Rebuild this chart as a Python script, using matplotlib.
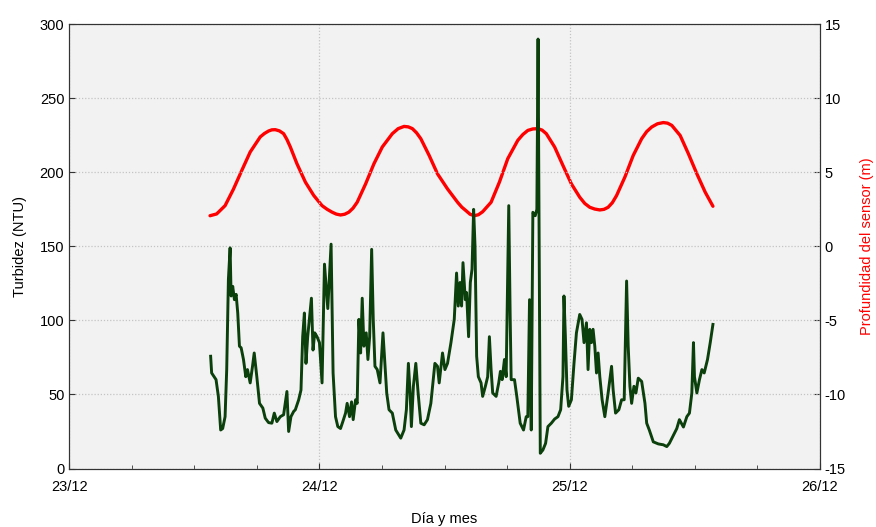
import numpy as np
import matplotlib
matplotlib.use("Agg")
import matplotlib.pyplot as plt
from matplotlib.ticker import MultipleLocator

plt.rcParams['font.family'] = ['Liberation Sans', 'DejaVu Sans']
plt.rcParams['axes.unicode_minus'] = False

# time in days since 23/12 00:00
turb_days = [0.5652, 0.5692, 0.5868, 0.5961, 0.6053, 0.6133, 0.6229, 0.6294, 0.6362, 0.6430,
             0.6470, 0.6534, 0.6602, 0.6670, 0.6735, 0.6803, 0.6871, 0.6964, 0.7056, 0.7124,
             0.7232, 0.7325, 0.7393, 0.7497, 0.7605, 0.7738, 0.7834, 0.7966, 0.8099, 0.8195,
             0.8299, 0.8436, 0.8568, 0.8700, 0.8769, 0.8861, 0.8969, 0.9037, 0.9170, 0.9262,
             0.9330, 0.9398, 0.9462, 0.9530, 0.9599, 0.9679, 0.9743, 0.9811, 0.9904, 1.0000,
             1.0104, 1.0201, 1.0333, 1.0465, 1.0505, 1.0545, 1.0642, 1.0734, 1.0842, 1.0935,
             1.1043, 1.1107, 1.1203, 1.1283, 1.1348, 1.1444, 1.1508, 1.1576, 1.1645, 1.1709,
             1.1777, 1.1869, 1.1937, 1.2006, 1.2086, 1.2150, 1.2218, 1.2310, 1.2419, 1.2539,
             1.2607, 1.2688, 1.2780, 1.2912, 1.3049, 1.3249, 1.3381, 1.3474, 1.3554, 1.3622,
             1.3674, 1.3754, 1.3851, 1.3943, 1.4051, 1.4184, 1.4316, 1.4452, 1.4613, 1.4717,
             1.4785, 1.4918, 1.5014, 1.5118, 1.5255, 1.5387, 1.5479, 1.5547, 1.5616, 1.5680,
             1.5736, 1.5828, 1.5880, 1.5960, 1.6029, 1.6097, 1.6161, 1.6217, 1.6282, 1.6350,
             1.6458, 1.6522, 1.6631, 1.6723, 1.6791, 1.6859, 1.6923, 1.7060, 1.7164, 1.7232,
             1.7300, 1.7393, 1.7461, 1.7565, 1.7621, 1.7661, 1.7794, 1.7886, 1.8022, 1.8155,
             1.8263, 1.8327, 1.8395, 1.8464, 1.8528, 1.8624, 1.8688, 1.8736, 1.8797, 1.8825,
             1.8929, 1.9037, 1.9130, 1.9266, 1.9398, 1.9531, 1.9639, 1.9731, 1.9771, 1.9828,
             1.9892, 1.9960, 2.0068, 2.0172, 2.0269, 2.0401, 2.0493, 2.0573, 2.0670, 2.0734,
             2.0802, 2.0870, 2.0934, 2.1003, 2.1071, 2.1135, 2.1203, 2.1296, 2.1404, 2.1536,
             2.1673, 2.1737, 2.1833, 2.1965, 2.2074, 2.2178, 2.2274, 2.2338, 2.2407, 2.2475,
             2.2567, 2.2647, 2.2740, 2.2876, 2.3008, 2.3077, 2.3181, 2.3341, 2.3542, 2.3743,
             2.3879, 2.3983, 2.4120, 2.4280, 2.4384, 2.4545, 2.4681, 2.4785, 2.4881, 2.4946,
             2.4986, 2.5082, 2.5186, 2.5283, 2.5375, 2.5507, 2.5616, 2.5724]
turb_ntu = [75.8, 64.5, 60, 48.7, 26, 27, 35, 66.8, 127.8, 149,
            116.5, 123, 114, 117.6, 105, 82.6, 81.5, 73.6, 62, 66.8,
            57.8, 69, 78, 62, 44, 40.8, 34, 31, 30.6, 37.4,
            31.7, 35, 36.3, 52, 25, 35, 38.5, 39.7, 46.4, 53,
            89, 105, 71, 89, 100.7, 115, 80, 91.6, 89, 85,
            57.8, 138, 108, 151.5, 107.5, 64.5, 35, 28.3, 27, 31.7,
            37.4, 44, 35, 45, 33, 46.4, 44, 100.7, 78, 115,
            82.6, 91.6, 73.6, 89, 148, 100.7, 69, 66.8, 57.8, 91.6,
            73.6, 51, 39.7, 37.4, 26, 20.5, 26, 39.7, 71, 51,
            28.3, 55.5, 71, 51, 30.6, 29.5, 33, 44, 71, 69,
            57.8, 78, 66.8, 71, 85, 100.7, 132, 109.7, 125.6, 109.7,
            139, 114, 118.8, 89, 125.6, 134.6, 175, 150, 75.8, 62,
            57.8, 48.7, 55.5, 62, 89, 66.8, 51, 48.7, 57.8, 65.6,
            60, 73.6, 62, 177.5, 103, 60, 60, 48.7, 30.6, 26,
            35, 35, 114, 26, 173, 170.7, 175, 290, 91.6, 10.3,
            12.5, 17, 28.3, 30.6, 33.4, 35, 39.7, 62, 116.5, 89,
            53, 42, 46.4, 71, 91.6, 104, 100.7, 85, 98.4, 66.8,
            94, 85, 94, 82.6, 64.5, 78, 62, 46.4, 35, 51,
            69, 53, 37.4, 39.7, 46.4, 46.4, 126.6, 82.6, 55.5, 44,
            55.5, 51, 61, 58.8, 44, 30.6, 26, 18, 16.6, 16,
            14.8, 17, 21.6, 27, 33, 28, 35, 37.4, 51, 85,
            62, 51, 60, 66.8, 64.5, 73.6, 85, 97.3]

depth_days = [0.5628, 0.5892, 0.6229, 0.6562, 0.6895, 0.7232, 0.7633, 0.7799, 0.7966, 0.8100,
              0.8235, 0.8400, 0.8568, 0.8700, 0.8837, 0.9101, 0.9438, 0.9771, 1.0104, 1.0310,
              1.0505, 1.0673, 1.0842, 1.1008, 1.1175, 1.1342, 1.1508, 1.1845, 1.2178, 1.2511,
              1.2912, 1.3146, 1.3381, 1.3548, 1.3714, 1.3880, 1.4051, 1.4384, 1.4717, 1.5118,
              1.5519, 1.5688, 1.5856, 1.6020, 1.6189, 1.6356, 1.6522, 1.6859, 1.7192, 1.7525,
              1.7926, 1.8126, 1.8327, 1.8528, 1.8728, 1.8897, 1.9065, 1.9398, 1.9731, 2.0068,
              2.0401, 2.0602, 2.0802, 2.1002, 2.1203, 2.1370, 2.1536, 2.1705, 2.1873, 2.2206,
              2.2539, 2.2876, 2.3077, 2.3277, 2.3510, 2.3743, 2.3912, 2.4080, 2.4414, 2.4745,
              2.5082, 2.5415, 2.5724]
depth_m = [2.07, 2.19, 2.75, 3.86, 5.12, 6.37, 7.39, 7.62, 7.79, 7.87,
           7.88, 7.80, 7.61, 7.22, 6.71, 5.58, 4.34, 3.44, 2.75, 2.50,
           2.31, 2.18, 2.12, 2.17, 2.31, 2.58, 2.98, 4.22, 5.58, 6.71,
           7.61, 7.95, 8.10, 8.07, 7.95, 7.67, 7.27, 6.14, 4.90, 3.88,
           2.98, 2.65, 2.41, 2.17, 2.07, 2.14, 2.34, 2.98, 4.34, 5.92,
           7.16, 7.55, 7.83, 7.93, 7.95, 7.85, 7.61, 6.71, 5.46, 4.22,
           3.32, 2.90, 2.64, 2.52, 2.46, 2.50, 2.64, 2.95, 3.43, 4.68,
           6.14, 7.27, 7.75, 8.06, 8.28, 8.36, 8.32, 8.17, 7.49, 6.25,
           4.90, 3.66, 2.71]

tick_days = [0, 1, 2, 3]
tick_labels = ['23/12', '24/12', '25/12', '26/12']

fig = plt.figure(figsize=(8.76, 5.27), dpi=100)
ax = fig.add_axes([0.079, 0.111, 0.857, 0.843])
ax2 = ax.twinx()

# gray background on the back axes, green drawn on top of red
ax2.patch.set_visible(True)
ax2.set_facecolor('#f2f2f2')
ax.patch.set_visible(False)
ax.set_zorder(ax2.get_zorder() + 1)

ax2.plot(depth_days, depth_m, color='#ff0000', lw=2.4,
         solid_capstyle='round', solid_joinstyle='round')
ax.plot(turb_days, turb_ntu, color='#0b3f0b', lw=2.1)

ax.set_xlim(0, 3)
ax.set_ylim(0, 300)
ax2.set_ylim(-15, 15)
ax.set_xticks(tick_days)
ax.set_xticklabels(tick_labels)
ax.xaxis.set_minor_locator(MultipleLocator(0.25))
ax.yaxis.set_major_locator(MultipleLocator(50))
ax2.yaxis.set_major_locator(MultipleLocator(5))

ax.grid(True, which='major', color='#c4c4c4', linestyle=(0, (1, 1.5)), lw=0.9)

ax.tick_params(which='both', direction='in', labelsize=10.5, color='#333333')
ax.tick_params(axis='x', pad=8)
ax.tick_params(which='major', length=4)
ax.tick_params(which='minor', length=3)
ax2.tick_params(direction='in', labelsize=10.5, length=4, color='#333333')

for sp in list(ax.spines.values()) + list(ax2.spines.values()):
    sp.set_color('#333333')
    sp.set_linewidth(0.8)

ax.set_xlabel('Día y mes', fontsize=10.5, labelpad=13)
ax.set_ylabel('Turbidez (NTU)', fontsize=10.5, labelpad=9)
ax2.set_ylabel('Profundidad del sensor (m)', fontsize=10.5, color='#ff0000', labelpad=10)

fig.savefig('out.png', dpi=100, facecolor='white')
